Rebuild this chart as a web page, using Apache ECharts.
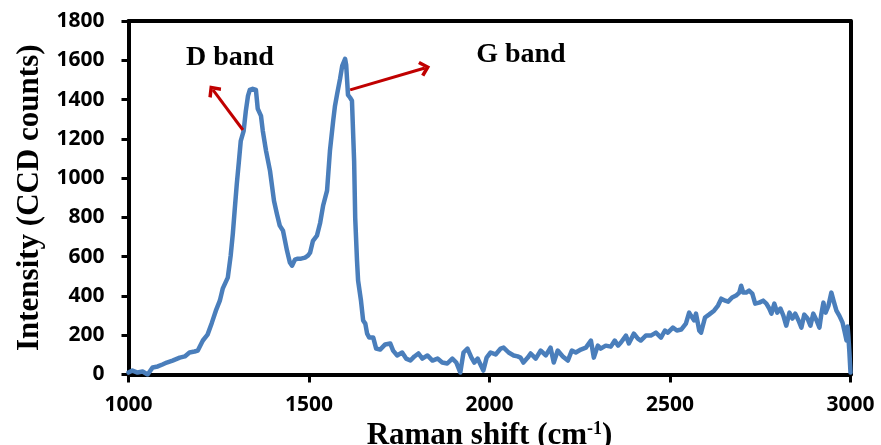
<!DOCTYPE html>
<html>
<head>
<meta charset="utf-8">
<title>Raman spectrum</title>
<script src="https://cdn.jsdelivr.net/npm/echarts@6/dist/echarts.min.js"></script>
<style>
  html, body { margin: 0; padding: 0; background: #fff; }
  #chart { width: 881px; height: 445px; }
</style>
</head>
<body>
<div id="chart"></div>
<script>
// Raman shift (cm-1)
const shift = [
  1000, 1011, 1025, 1039, 1053, 1067, 1081, 1094, 1106, 1122, 1142, 1156, 1169, 1183, 1192,
  1206, 1219, 1231, 1242, 1253, 1261, 1275, 1283, 1289, 1294, 1300, 1306, 1311, 1319, 1325,
  1331, 1336, 1344, 1353, 1358, 1367, 1372, 1381, 1392, 1403, 1411, 1419, 1428, 1439, 1447,
  1453, 1461, 1469, 1478, 1489, 1497, 1503, 1511, 1522, 1531, 1539, 1550, 1558, 1567, 1572,
  1578, 1586, 1592, 1600, 1603, 1608, 1614, 1619, 1625, 1628, 1633, 1636, 1644, 1650, 1656,
  1661, 1667, 1678, 1686, 1697, 1711, 1725, 1733, 1744, 1758, 1769, 1781, 1792, 1803, 1814,
  1828, 1842, 1856, 1869, 1883, 1897, 1908, 1919, 1928, 1939, 1950, 1958, 1967, 1975, 1983,
  1992, 2003, 2017, 2031, 2039, 2053, 2067, 2078, 2086, 2094, 2106, 2114, 2128, 2142, 2156,
  2169, 2178, 2189, 2203, 2217, 2228, 2239, 2253, 2267, 2281, 2289, 2300, 2308, 2322, 2336,
  2347, 2356, 2364, 2378, 2386, 2400, 2411, 2419, 2433, 2447, 2461, 2475, 2486, 2494, 2508,
  2519, 2531, 2544, 2553, 2558, 2567, 2572, 2581, 2586, 2597, 2608, 2622, 2633, 2642, 2653,
  2661, 2672, 2683, 2692, 2697, 2703, 2711, 2719, 2728, 2736, 2747, 2758, 2767, 2775, 2781,
  2789, 2797, 2806, 2814, 2822, 2831, 2839, 2847, 2856, 2864, 2872, 2881, 2889, 2897, 2906,
  2914, 2919, 2925, 2931, 2939, 2947, 2953, 2961, 2969, 2978, 2983, 2989, 2992, 2994, 2997,
  3000
]

// intensity (CCD counts)
const counts = [
  10, 20, 10, 15, 0, 36, 41, 51, 61, 71, 86, 92, 112, 117, 122,
  173, 203, 264, 325, 376, 437, 493, 605, 717, 834, 971, 1088, 1190, 1241, 1342,
  1419, 1449, 1455, 1449, 1353, 1317, 1241, 1139, 1037, 885, 819, 758, 732, 631, 570,
  554, 585, 590, 590, 595, 605, 620, 681, 707, 773, 859, 936, 1139, 1292, 1368,
  1429, 1505, 1571, 1607, 1576, 1424, 1409, 1394, 1088, 798, 580, 478, 376, 275, 259,
  208, 188, 188, 132, 127, 153, 158, 122, 97, 112, 81, 71, 92, 107, 81,
  97, 71, 81, 61, 56, 81, 61, 10, 112, 132, 86, 61, 81, 51, 20,
  86, 112, 102, 132, 137, 112, 97, 92, 86, 61, 86, 107, 81, 122, 97,
  137, 61, 122, 92, 71, 122, 112, 127, 137, 173, 86, 147, 132, 147, 142,
  173, 147, 163, 198, 158, 208, 183, 173, 198, 198, 213, 188, 224, 213, 239,
  224, 229, 259, 315, 300, 275, 310, 224, 213, 290, 305, 325, 351, 386, 376,
  371, 392, 402, 417, 452, 417, 417, 427, 412, 361, 366, 376, 361, 336, 310,
  361, 315, 336, 300, 249, 315, 285, 310, 275, 239, 305, 285, 249, 310, 275,
  239, 305, 366, 315, 351, 417, 376, 325, 300, 264, 224, 173, 244, 198, 112,
  10
]

// band labels and arrows (data coordinates)
const bandLabels = [
  { name: 'D band', coord: [1281, 1612] },
  { name: 'G band', coord: [2087, 1627] }
]
const bandArrows = [
  [[1317, 1245], [1234, 1449]],
  [[1614, 1449], [1821, 1561]]
]

const chart = echarts.init(document.getElementById('chart'))

const serif = '"Liberation Serif", "Times New Roman", serif'
const sans = '"Open Sans", "Liberation Sans", sans-serif'
const chevron = 'path://M10,0 L20,10 L17,13 L10,6 L3,13 L0,10 Z'
const frameLine = { onZero: false, lineStyle: { color: '#000', width: 4 } }

const option = {
  animation: false,
  grid: {
    left: 128.5, right: 30.5, top: 21, bottom: 70.5,
    outerBoundsMode: 'none',
    containLabel: false
  },
  xAxis: [{
    type: 'value',
    min: 1000, max: 3000, interval: 500,
    name: '{a|Raman shift (cm}{s|-1}{a|)}',
    nameLocation: 'middle',
    nameGap: 35,
    nameTextStyle: {
      rich: {
        a: { fontFamily: serif, fontWeight: 'bold', fontSize: 31, color: '#000' },
        s: { fontFamily: serif, fontWeight: 'bold', fontSize: 18, color: '#000', verticalAlign: 'top', padding: [0, 0, 14, 0] }
      }
    },
    axisLine: frameLine,
    axisTick: { show: true, inside: false, length: 8, lineStyle: { color: '#000', width: 3 } },
    axisLabel: { color: '#000', fontFamily: sans, fontWeight: 'bold', fontSize: 21, margin: 20, formatter: v => String(v) },
    splitLine: { show: false }
  }, {
    type: 'value', position: 'top',
    min: 1000, max: 3000,
    axisLine: frameLine,
    axisTick: { show: false }, axisLabel: { show: false }, splitLine: { show: false }
  }],
  yAxis: [{
    type: 'value',
    min: 0, max: 1800, interval: 200,
    name: 'Intensity (CCD counts)',
    nameLocation: 'middle',
    nameGap: 82,
    nameTextStyle: { fontFamily: serif, fontWeight: 'bold', fontSize: 31, color: '#000' },
    axisLine: frameLine,
    axisTick: { show: true, inside: false, length: 7, lineStyle: { color: '#000', width: 3 } },
    axisLabel: { color: '#000', fontFamily: sans, fontWeight: 'bold', fontSize: 21, margin: 24, formatter: v => String(v) },
    splitLine: { show: false }
  }, {
    type: 'value', position: 'right',
    min: 0, max: 1800,
    axisLine: frameLine,
    axisTick: { show: false }, axisLabel: { show: false }, splitLine: { show: false }
  }],
  series: [{
    name: 'Raman',
    type: 'line',
    data: shift.map((x, i) => [x, counts[i]]),
    showSymbol: false,
    smooth: false,
    lineStyle: { color: '#4A7EBB', width: 4.5, cap: 'round', join: 'round' },
    markLine: {
      silent: true,
      symbol: ['none', chevron],
      symbolSize: [16, 11],
      label: { show: false },
      lineStyle: { color: '#C00000', width: 3, type: 'solid' },
      data: bandArrows.map(a => [{ coord: a[0] }, { coord: a[1] }])
    },
    markPoint: {
      silent: true,
      symbol: 'rect',
      symbolSize: 1,
      itemStyle: { color: 'rgba(0,0,0,0)' },
      label: {
        show: true, position: 'inside', formatter: '{b}',
        fontFamily: serif, fontWeight: 'bold', fontSize: 28, color: '#000'
      },
      data: bandLabels
    }
  }]
}

chart.setOption(option)
window.addEventListener('resize', () => chart.resize())
</script>
</body>
</html>
